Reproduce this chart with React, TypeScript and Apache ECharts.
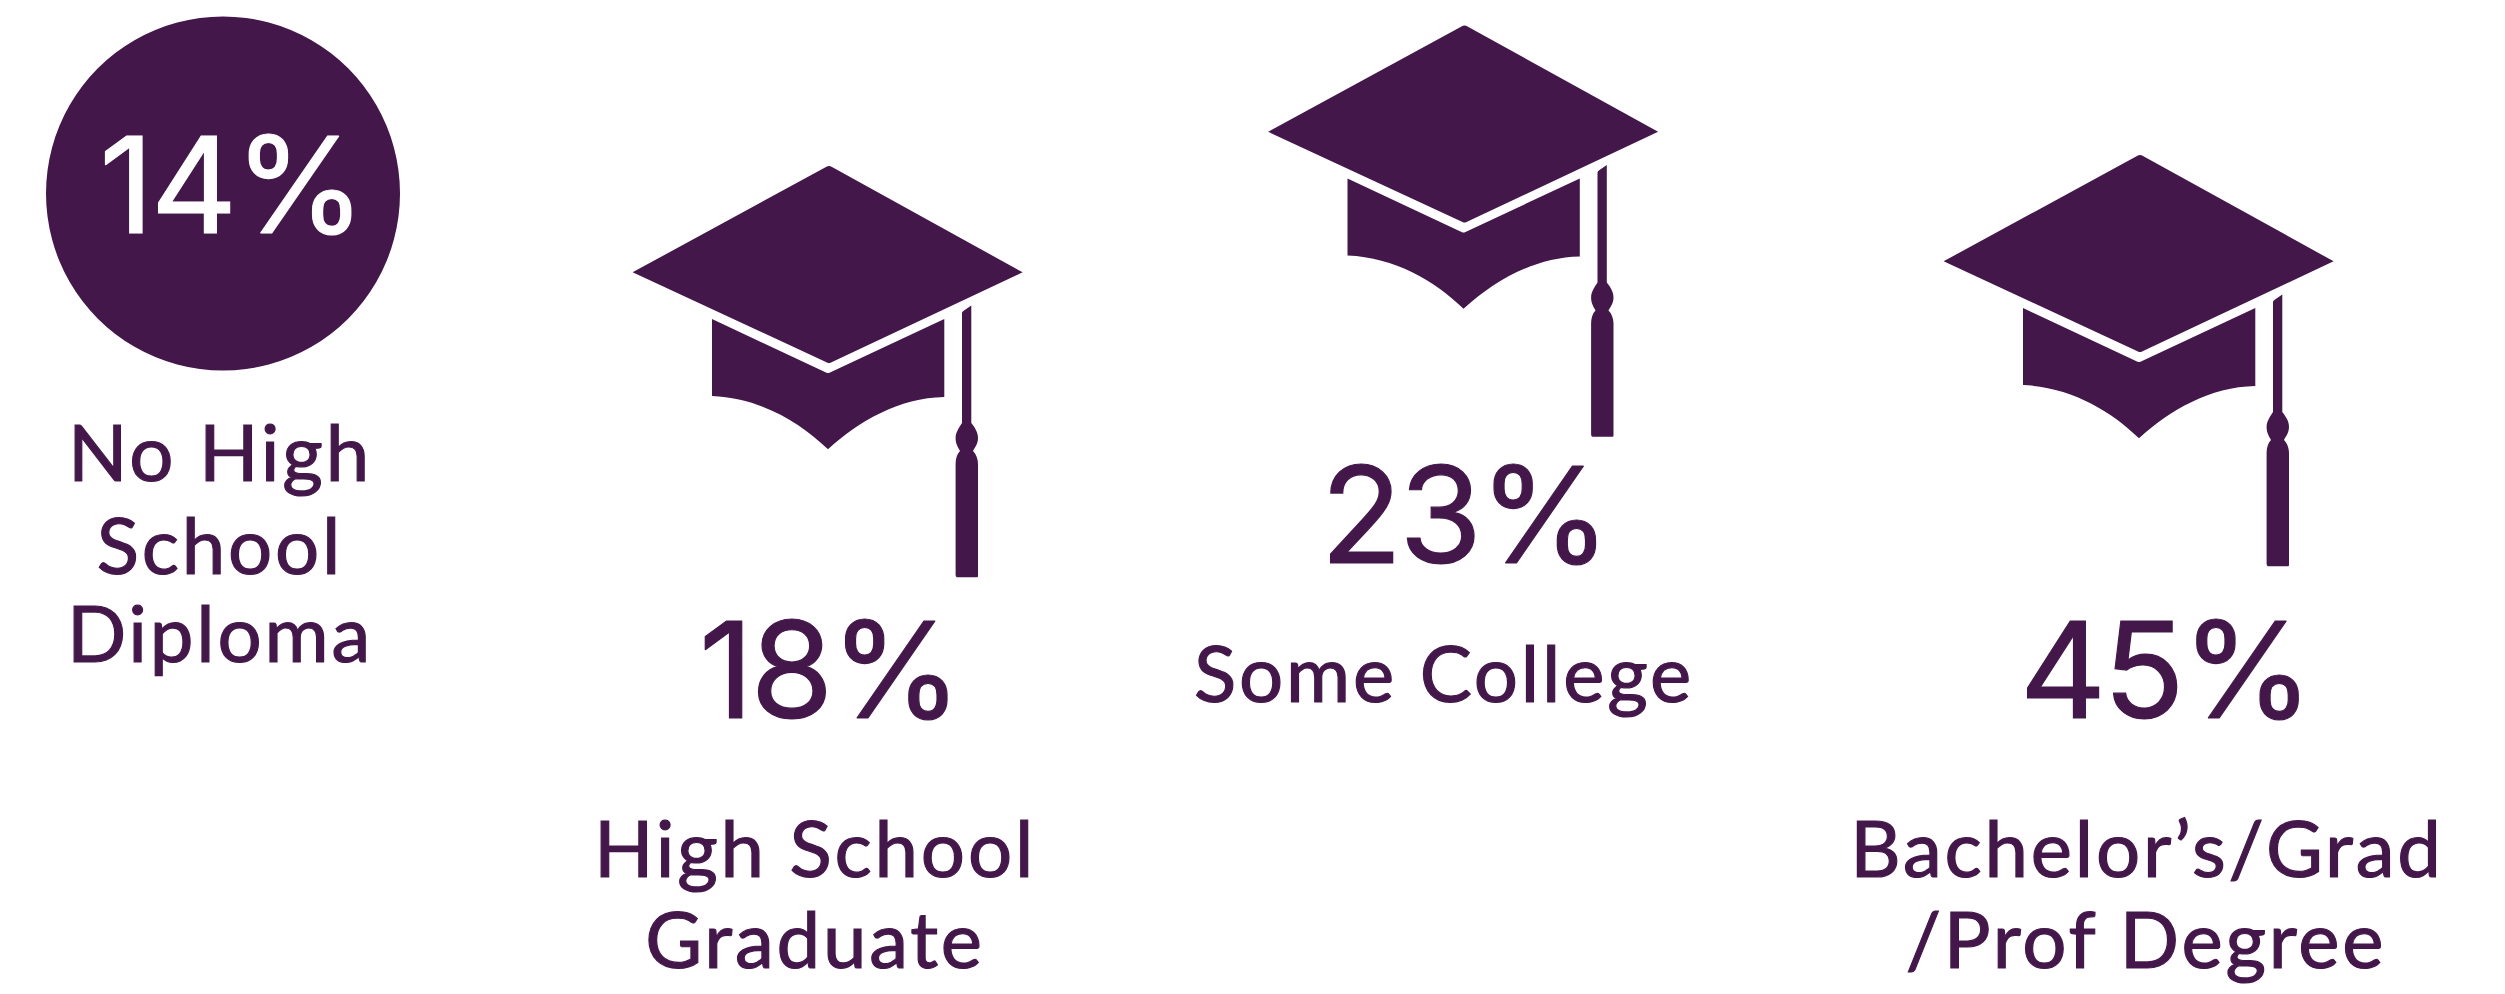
import React, { useEffect, useRef } from "react";
import * as echarts from "echarts";

const values = ["14%", "18%", "23%", "45%"];
const labels = ["No High\nSchool\nDiploma", "High School\nGraduate", "Some College", "Bachelor’s/Grad\n/Prof Degree"];

const PURPLE = "#43174a";
const LABEL_FONT = "Lato";
const VALUE_FONT = "Inter";

const HAT_PATH =
  "M-3,1 Q0,-1 3,1 L193.6,106.3 L2,196.5 Q0,197.5 -2,196.5 L-196.4,106.3 Z " +
  "M-117,153 L-3,206.5 Q-1,207.6 1,206.5 L115.3,153 L115.3,231 C70,232 30,255 -1,283.3 C-30,255 -70,232 -117,230 Z " +
  "M133,147 Q133,145.5 135,144.5 L142.3,139.5 L142.3,257 C146,262 149,266 149,272 C149,278 146,281 144,285 C147,288 149,293 149,298 L149,410 Q149,411.3 148,411.3 L128,411.3 Q126.6,411 126.6,409 L126.6,298 C126.6,293 128,288 131,285 C129,281 126.6,278 126.6,272 C126.6,266 130,262 133,257 Z";

const HAT_TOPS = [null, [829, 166], [1464.5, 25.5], [2140, 155]];
const VALUE_POS = [[231, 232, "#ffffff"], [829, 717, PURPLE], [1464, 562, PURPLE], [2165, 717, PURPLE]];
const LABEL_POS = [
  [[220, 479], [220, 572], [220, 660]],
  [[815, 875], [815, 966]],
  [[1444, 700]],
  [[2147, 875], [2146, 966]],
];

const VALUE_SIZE = 134;
const LABEL_SIZE = 78;
const CAP = 0.72;

const css = `
.grad-chart text { letter-spacing: 2.8px; }
.grad-chart text[style*="${VALUE_SIZE}px"] { letter-spacing: -3px; }
`;

export default function App() {
  const ref = useRef<HTMLDivElement>(null);
  useEffect(() => {
    const chart = echarts.init(ref.current!, null, { renderer: "svg", width: 2505, height: 994 });
    echarts.graphic.registerShape("gradHat", echarts.graphic.extendPath(HAT_PATH, {}) as any);

    const elements: any[] = [
      { type: "circle", shape: { cx: 223, cy: 193.5, r: 177 }, style: { fill: PURPLE } },
    ];
    HAT_TOPS.forEach((p) => {
      if (p) elements.push({ type: "gradHat", x: p[0], y: p[1], style: { fill: PURPLE } });
    });
    values.forEach((v, i) => {
      const [x, base, fill] = VALUE_POS[i] as [number, number, string];
      elements.push({
        type: "text",
        x,
        y: base - (VALUE_SIZE * CAP) / 2,
        style: {
          text: v,
          font: `400 ${VALUE_SIZE}px ${VALUE_FONT}`,
          fill,
          stroke: fill,
          lineWidth: 1.2,
          textAlign: "center",
          textVerticalAlign: "middle",
        },
      });
    });
    labels.forEach((label, i) => {
      label.split("\n").forEach((line, j) => {
        const [x, base] = LABEL_POS[i][j];
        elements.push({
          type: "text",
          x,
          y: base - (LABEL_SIZE * CAP) / 2,
          style: {
            text: line,
            font: `400 ${LABEL_SIZE}px ${LABEL_FONT}`,
            fill: PURPLE,
            stroke: PURPLE,
            lineWidth: 1.2,
            textAlign: "center",
            textVerticalAlign: "middle",
          },
        });
      });
    });

    chart.setOption({ animation: false, backgroundColor: "#ffffff", graphic: { elements } });
    return () => chart.dispose();
  }, []);
  return (
    <>
      <style>{css}</style>
      <div
        ref={ref}
        className="grad-chart"
        style={{ position: "absolute", left: 0, top: 0, width: 2505, height: 994 }}
      />
    </>
  );
}
